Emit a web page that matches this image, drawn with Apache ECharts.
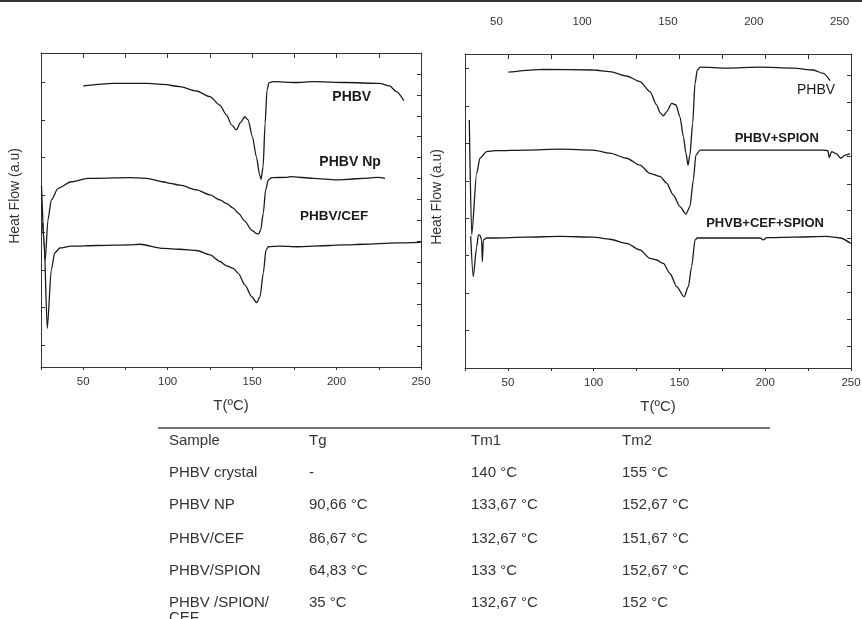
<!DOCTYPE html>
<html><head><meta charset="utf-8">
<script src="https://cdn.jsdelivr.net/npm/echarts@6/dist/echarts.min.js"></script>
<style>html,body{margin:0;padding:0;background:#fff}#c{width:862px;height:619px}</style>
</head><body><div id="c"></div>
<script>
// ---------- data (temperature in °C, heat flow in arbitrary units 0-100) ----------
const xTickValues = [50, 100, 150, 200, 250];

// Left panel
const phbvT = [50, 67.8, 87.5, 97.4, 107.2, 117.1, 125, 130.9, 134.8, 137.8, 140.7, 143.1, 145.7, 147.6, 150.2, 152.5, 154.5, 155.3, 156.5, 157.7, 158.8, 160, 162.4, 176.2, 186.1, 205.8, 225.5, 231.4, 235.4, 239.9];
const phbvV = [89.5, 90.3, 90.3, 90.0, 89.3, 87.9, 86.1, 83.4, 80.3, 77.1, 75.5, 77.8, 79.7, 78.7, 73.3, 67.0, 61.1, 59.8, 63.8, 77.6, 88.2, 90.5, 90.9, 90.6, 90.9, 90.6, 90.3, 89.5, 87.7, 84.8];

const npT = [25.3, 27.5, 29.1, 31.1, 35.1, 42.9, 52.8, 58.0, 77.7, 87.6, 97.4, 101.4, 107.3, 117.2, 125.1, 131.0, 134.9, 138.9, 141.8, 145.8, 149.7, 152.7, 154.0, 155.1, 156.6, 158.0, 159.6, 161.6, 170.4, 172.4, 186.2, 200.0, 207.9, 215.8, 224.7, 228.7];
const npV = [57.6, 34.1, 46.8, 53.2, 56.9, 59.0, 60.1, 60.1, 60.3, 60.1, 59.0, 58.5, 57.9, 56.4, 54.8, 53.2, 52.0, 50.6, 49.0, 46.4, 43.6, 42.5, 42.4, 43.7, 48.9, 56.4, 59.6, 60.3, 60.4, 60.6, 60.1, 59.6, 59.8, 60.1, 60.4, 60.1];

const cefT = [25.9, 26.8, 28.7, 31.1, 33.1, 36.1, 42.9, 58.0, 77.7, 83.6, 97.4, 107.3, 117.2, 125.1, 131.0, 134.9, 138.9, 141.8, 145.8, 149.7, 152.7, 154.7, 156.6, 158.2, 159.6, 166.5, 176.4, 196.1, 204.0, 215.8, 235.6, 249.8];
const cefV = [45.9, 40.4, 12.3, 30.9, 36.3, 37.9, 38.5, 38.7, 38.9, 39.1, 37.8, 37.5, 37.1, 35.7, 33.6, 32.2, 31.4, 29.8, 26.1, 22.4, 20.5, 22.4, 29.8, 37.2, 38.3, 38.5, 38.3, 38.7, 38.9, 39.1, 39.5, 39.7];

// Right panel
const phbv2T = [50.3, 70.7, 99.8, 109.5, 119.2, 127.0, 132.8, 136.7, 138.7, 140.6, 142.5, 145.5, 148.0, 150.3, 152.3, 153.8, 155.0, 156.1, 157.7, 159.1, 160.4, 162.0, 177.5, 197.0, 216.4, 228.0, 233.9, 237.8];
const phbv2V = [94.2, 95.1, 94.9, 94.4, 93.0, 91.2, 88.0, 83.8, 81.3, 80.3, 81.6, 84.3, 83.8, 80.0, 73.7, 68.4, 64.6, 67.8, 77.9, 90.7, 94.9, 95.8, 95.5, 95.8, 95.5, 94.9, 93.8, 91.5];

const spionT = [27.5, 28.9, 31.8, 33.7, 37.6, 42.7, 60.9, 80.4, 99.8, 109.5, 119.2, 127.0, 132.8, 138.7, 142.5, 146.4, 150.3, 153.8, 156.1, 158.1, 159.6, 162.0, 177.5, 197.0, 216.4, 233.8, 236.6, 237.3, 238.7, 241.6, 244.0, 246.5, 249.4];
const spionV = [79.0, 42.4, 62.0, 66.8, 68.9, 69.2, 69.4, 69.7, 69.4, 68.4, 66.8, 64.6, 62.0, 61.0, 58.9, 55.1, 51.4, 49.0, 51.4, 59.9, 67.8, 69.4, 69.4, 69.4, 69.4, 69.4, 69.2, 67.0, 68.9, 68.2, 66.8, 67.8, 68.3];

const cefSpionT = [28.3, 29.8, 31.8, 32.8, 33.7, 34.7, 35.1, 35.7, 37.6, 41.5, 60.9, 80.4, 99.8, 109.5, 119.2, 127.0, 132.8, 136.7, 140.6, 144.5, 148.4, 152.7, 155.2, 157.1, 159.1, 160.4, 177.5, 197.0, 198.9, 200.9, 216.4, 235.8, 243.6, 249.8];
const cefSpionV = [42.0, 29.1, 38.6, 42.4, 42.3, 40.8, 33.9, 40.8, 41.4, 41.4, 41.7, 41.9, 41.7, 41.0, 39.7, 37.6, 34.9, 34.4, 33.3, 30.1, 25.9, 22.7, 25.9, 32.3, 40.8, 41.4, 41.4, 41.4, 40.8, 41.5, 41.7, 41.9, 41.4, 39.7];

// minor tick marks along the frame (heat-flow units)
const leftPanelLeftTicks = [7.0, 18.9, 30.9, 42.8, 54.8, 66.7, 78.7, 90.6];
const leftPanelRightTicks = [6.67, 13.33, 20, 26.67, 33.33, 40, 46.67, 53.33, 60, 66.67, 73.33, 80, 86.67, 93.33, 100];
const rightPanelLeftTicks = [11.9, 23.8, 35.8, 47.7, 59.6, 71.5, 83.4, 95.4];
const rightPanelRightTicks = [7.0, 15.5, 24.1, 32.8, 41.3, 50.1, 58.6, 67.3, 75.8, 84.5, 93.3];

// table
const tableHeader = ['Sample', 'Tg', 'Tm1', 'Tm2'];
const sampleNames = ['PHBV crystal', 'PHBV NP', 'PHBV/CEF', 'PHBV/SPION', 'PHBV /SPION/\nCEF'];
const tgValues = ['-', '90,66 °C', '86,67 °C', '64,83 °C', '35 °C'];
const tm1Values = ['140 °C', '133,67 °C', '132,67 °C', '133 °C', '132,67 °C'];
const tm2Values = ['155 °C', '152,67 °C', '151,67 °C', '152,67 °C', '152 °C'];

// ---------- chart ----------
const FONT = '"Liberation Sans", Arial, sans-serif';
const INK = '#333';
const zip = (t, v) => t.map((x, i) => [x, v[i]]);

function bottomAxis(grid) {
  return {
    gridIndex: grid, type: 'value', position: 'bottom', min: 25, max: 250, interval: 25,
    axisLine: { show: true, onZero: false, lineStyle: { color: INK, width: 1 } },
    axisTick: { show: true, inside: false, length: 3, lineStyle: { color: INK } },
    axisLabel: { show: true, margin: 9, fontFamily: FONT, fontSize: 11.5, color: INK,
      formatter: v => (xTickValues.indexOf(v) >= 0 ? String(v) : '') },
    splitLine: { show: false },
    name: 'T(ºC)', nameLocation: 'middle', nameGap: 31,
    nameTextStyle: { fontFamily: FONT, fontSize: 15, color: INK }
  };
}
function topAxis(grid) {
  return {
    gridIndex: grid, type: 'value', position: 'top', min: 25, max: 250, interval: 25,
    axisLine: { show: true, onZero: false, lineStyle: { color: INK, width: 1 } },
    axisTick: { show: true, inside: true, length: 5, lineStyle: { color: INK } },
    axisLabel: { show: false }, splitLine: { show: false }
  };
}
function yAx(grid, pos, ticks, withName, gap) {
  const a = {
    gridIndex: grid, type: 'value', position: pos, min: 0, max: 100,
    axisLine: { show: true, onZero: false, lineStyle: { color: INK, width: 1 } },
    axisTick: { show: true, inside: true, length: 4, customValues: ticks, lineStyle: { color: INK } },
    axisLabel: { show: false }, splitLine: { show: false }
  };
  if (withName) {
    a.name = 'Heat Flow (a.u)'; a.nameLocation = 'middle'; a.nameGap = gap;
    a.nameTextStyle = { fontFamily: FONT, fontSize: 14, color: INK, padding: [0, 0, 0, 28] };
  }
  return a;
}
function curve(name, xi, yi, data, labelText, coord, bold, size) {
  return {
    name: name, type: 'line', xAxisIndex: xi, yAxisIndex: yi, data: data,
    showSymbol: false, smooth: 0.25, smoothMonotone: 'x',
    lineStyle: { color: '#1a1a1a', width: 1.3 }, silent: true,
    markPoint: {
      symbol: 'circle', symbolSize: 0, silent: true,
      data: [{ coord: coord, label: { show: true, position: 'inside', formatter: labelText,
        fontFamily: FONT, fontWeight: bold ? 'bold' : 'normal', fontSize: size, color: '#1a1a1a' } }]
    }
  };
}

const cols = [169, 309, 471, 622];
const rowY = [441, 473, 505, 539, 571, 603];
const graphic = [
  { type: 'line', shape: { x1: 0, y1: 1, x2: 862, y2: 1 }, style: { stroke: '#333', lineWidth: 2 } },
  { type: 'line', shape: { x1: 158, y1: 428, x2: 770, y2: 428 }, style: { stroke: '#444', lineWidth: 1.5 } }
];
function cell(text, x, y) {
  graphic.push({ type: 'text', x: x, y: y - 8,
    style: { text: text, fontFamily: FONT, fontSize: 15, fill: INK, verticalAlign: 'top', lineHeight: 15 } });
}
tableHeader.forEach((h, i) => cell(h, cols[i], rowY[0]));
sampleNames.forEach((s, r) => {
  cell(s, cols[0], rowY[r + 1]);
  cell(tgValues[r], cols[1], rowY[r + 1]);
  cell(tm1Values[r], cols[2], rowY[r + 1]);
  cell(tm2Values[r], cols[3], rowY[r + 1]);
});

const option = {
  animation: false,
  backgroundColor: '#fff',
  grid: [
    { left: 41, top: 53, width: 380, height: 314, containLabel: false, outerBoundsMode: 'none' },
    { left: 465, top: 54, width: 386, height: 314, containLabel: false, outerBoundsMode: 'none' }
  ],
  xAxis: [
    bottomAxis(0), topAxis(0), bottomAxis(1), topAxis(1),
    { gridIndex: 1, type: 'value', position: 'top', min: 25, max: 250, interval: 25,
      axisLine: { show: false }, axisTick: { show: false }, splitLine: { show: false },
      axisLabel: { show: true, margin: 26, fontFamily: FONT, fontSize: 11.5, color: INK, padding: [0, 23, 0, 0],
        formatter: v => (xTickValues.indexOf(v) >= 0 ? String(v) : '') } }
  ],
  yAxis: [
    yAx(0, 'left', leftPanelLeftTicks, true, 19),
    yAx(0, 'right', leftPanelRightTicks, false),
    yAx(1, 'left', rightPanelLeftTicks, true, 21),
    yAx(1, 'right', rightPanelRightTicks, false)
  ],
  series: [
    curve('PHBV', 0, 0, zip(phbvT, phbvV), 'PHBV', [209, 86.1], true, 14),
    curve('PHBV Np', 0, 0, zip(npT, npV), 'PHBV Np', [208, 65.1], true, 14),
    curve('PHBV/CEF', 0, 0, zip(cefT, cefV), 'PHBV/CEF', [198.5, 47.9], true, 13.5),
    curve('PHBV ', 2, 2, zip(phbv2T, phbv2V), 'PHBV', [229.6, 88.5], false, 14),
    curve('PHBV+SPION', 2, 2, zip(spionT, spionV), 'PHBV+SPION', [206.7, 73.2], true, 13),
    curve('PHVB+CEF+SPION', 2, 2, zip(cefSpionT, cefSpionV), 'PHVB+CEF+SPION', [199.9, 45.9], true, 13)
  ],
  graphic: graphic
};
const chart = echarts.init(document.getElementById('c'));
chart.setOption(option);
</script>
</body></html>
